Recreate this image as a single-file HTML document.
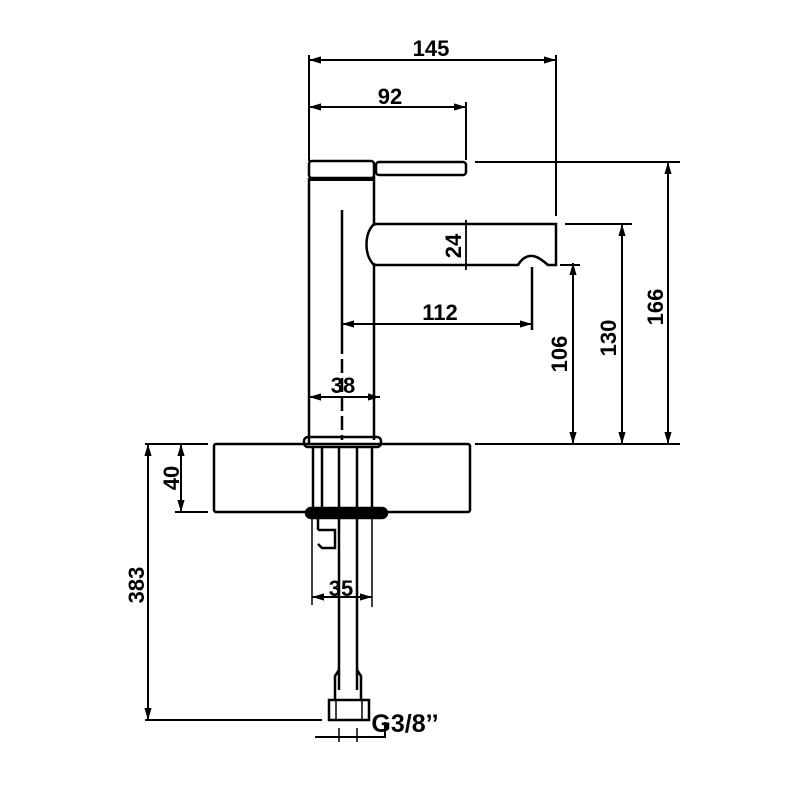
<!DOCTYPE html>
<html><head><style>body{margin:0;background:#fff}svg{display:block}</style></head><body>
<svg width="800" height="800" viewBox="0 0 800 800" xmlns="http://www.w3.org/2000/svg" font-family="Liberation Sans, sans-serif">
<defs>
<marker id="a" viewBox="0 0 10 10" refX="10" refY="5" markerWidth="8" markerHeight="6" orient="auto-start-reverse"><path d="M0,2 L10,5 L0,8 z" fill="#000"/></marker>
</defs>
<rect width="800" height="800" fill="#fff"/>
<g stroke="#000" fill="none" stroke-width="2.5">
<path d="M309 178 V444"/>
<path d="M374 176 V226"/>
<path d="M374 263 V440"/>
<rect x="309" y="161" width="65" height="17" rx="3"/>
<path d="M309 179 H374" stroke-width="4"/>
<rect x="376" y="162" width="90" height="13" rx="3"/>
<path d="M342 210 V340"/>
<path d="M342 340 V440" stroke-dasharray="14 5"/>
<path d="M374 224 H556 V265 H548 C540 258 530 250 520 262 L518 265 H374 C364 255 364 234 374 224 Z"/>
<path d="M532 267 V330"/>
<rect x="304" y="437" width="77" height="10" rx="4"/>
<rect x="214" y="444" width="256" height="68" rx="2"/>
<path d="M313 447 V512 M322 447 V512 M339 447 V690 M357 447 V690 M372 447 V512"/>
<path d="M312 512 V605 M372 512 V607" stroke-width="1.5"/>
<rect x="306" y="508" width="81" height="10" rx="5" fill="#000"/>
<path d="M318 518 V530 M318 530 H335 V548 H322 L318 544"/>
<path d="M339 670 L335 676 V700 M357 670 L361 676 V700"/>
<rect x="329" y="700" width="40" height="20"/>
<path d="M336 700 V720 M362 700 V720" stroke-width="1.5"/>
</g>
<g stroke="#000" fill="none" stroke-width="2">
<path d="M309 55 V161 M556 55 V216 M466 102 V160"/>
<path d="M475 162 H680 M565 224 H632 M560 265 H580 M475 444 H680"/>
<path d="M145 444 H208 M175 512 H208"/>
<path d="M145 720 H322"/>
<path d="M309 60 H556" marker-start="url(#a)" marker-end="url(#a)"/>
<path d="M309 107 H466" marker-start="url(#a)" marker-end="url(#a)"/>
<path d="M668 162 V444" marker-start="url(#a)" marker-end="url(#a)"/>
<path d="M622 224 V444" marker-start="url(#a)" marker-end="url(#a)"/>
<path d="M573 263 V444" marker-start="url(#a)" marker-end="url(#a)"/>
<path d="M466 220 V270" stroke-width="1.8"/>
<path d="M342 324 H532" marker-start="url(#a)" marker-end="url(#a)"/>
<path d="M309 397 H380" marker-start="url(#a)" marker-end="url(#a)"/>
<path d="M181 444 V512" marker-start="url(#a)" marker-end="url(#a)"/>
<path d="M148 444 V720" marker-start="url(#a)" marker-end="url(#a)"/>
<path d="M312 597 H372" marker-start="url(#a)" marker-end="url(#a)"/>
<path d="M315 737 H385 V722" />
<path d="M339 728 V742 M357 728 V742" stroke-width="1.5"/>
</g>
<g font-size="22" fill="#000" text-anchor="middle" font-weight="bold">
<text x="431" y="56">145</text>
<text x="390" y="104">92</text>
<text x="440" y="320">112</text>
<text x="343" y="393">38</text>
<text x="341" y="596">35</text>
<text x="405" y="732" font-size="25">G3/8’’</text>
<text transform="translate(461,246) rotate(-90)">24</text>
<text transform="translate(567,354) rotate(-90)">106</text>
<text transform="translate(616,338) rotate(-90)">130</text>
<text transform="translate(663,307) rotate(-90)">166</text>
<text transform="translate(179,478) rotate(-90)">40</text>
<text transform="translate(144,585) rotate(-90)">383</text>
</g>
</svg>
</body></html>
